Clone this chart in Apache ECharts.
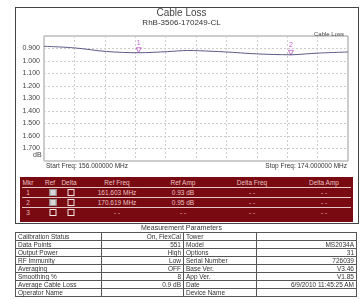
<!DOCTYPE html>
<html>
<head>
<meta charset="utf-8">
<script src="https://cdn.jsdelivr.net/npm/echarts@6/dist/echarts.min.js"></script>
<style>
  body { margin: 0; background: #fff; font-family: "Liberation Sans", Arial, sans-serif; }
  #wrap { position: relative; width: 363px; height: 299px; overflow: hidden; }
  #frame { position: absolute; left: 15px; top: 7px; width: 342px; height: 215px; border: 1px solid #444; }
  #chart { position: absolute; left: 0; top: 0; width: 363px; height: 299px; }
  #mkr { position: absolute; left: 20px; top: 177px; width: 333px; height: 45px; background: #7a0a12; color: #eac4c4; font-size: 6.5px; }
  #mkr .row { position: absolute; left: 2px; right: 2px; height: 10px; border-bottom: 1px solid #e6c8c8; }
  #mkr .row.last { border-bottom: none; }
  #mkr span { position: absolute; top: 2px; transform: translateX(-50%); white-space: nowrap; }
  #mkr .cb { position: absolute; top: 2px; width: 5px; height: 5px; border: 1px solid #f2e6e6; transform: translateX(-50%); }
  #mkr .cb.on { background: #d8d8d8; border-color: #999; }
  #ptitle { position: absolute; left: 0; width: 363px; top: 224px; text-align: center; font-size: 7px; color: #333; }
  #params { position: absolute; left: 15px; top: 232px; border-collapse: collapse; font-size: 6.5px; color: #333; }
  #params td { border: 1px solid #555; height: 7px; padding: 0 2px; line-height: 7px; white-space: nowrap; }
  #params td.v { text-align: right; }
</style>
</head>
<body>
<div id="wrap">
  <div id="frame"></div>
  <div id="chart"></div>
  <div id="mkr"></div>
  <div id="ptitle">Measurement Parameters</div>
  <table id="params"></table>
</div>
<script>
// trace data (MHz, dB)
var freqs = [156.0, 157.8, 159.7, 161.6, 163.3, 164.5, 165.2, 166.7, 168.6, 170.6, 172.2, 174.0];
var loss = [0.882, 0.895, 0.924, 0.934, 0.925, 0.916, 0.918, 0.927, 0.943, 0.950, 0.937, 0.928];

// markers
var markerFreqs = [161.603, 170.619];
var markerAmps = [0.93, 0.95];

var yTicks = ['0.900', '1.000', '1.100', '1.200', '1.300', '1.400', '1.500', '1.600', '1.700'];

// marker table rows
var mkrHeaders = ['Mkr', 'Ref', 'Delta', 'Ref Freq', 'Ref Amp', 'Delta Freq', 'Delta Amp'];
var mkrRefOn = [true, true, false];
var mkrRefFreq = ['161.603 MHz', '170.619 MHz', '- -'];
var mkrRefAmp = ['0.93 dB', '0.95 dB', '- -'];

// parameter table
var paramLeftNames = ['Calibration Status', 'Data Points', 'Output Power', 'RF Immunity', 'Averaging', 'Smoothing %', 'Average Cable Loss', 'Operator Name'];
var paramLeftValues = ['On, FlexCal', '551', 'High', 'Low', 'OFF', '8', '0.9 dB', ''];
var paramRightNames = ['Tower', 'Model', 'Options', 'Serial Number', 'Base Ver.', 'App Ver.', 'Date', 'Device Name'];
var paramRightValues = ['', 'MS2034A', '31', '726039', 'V3.46', 'V1.85', '6/9/2010 11:45:25 AM', ''];

var chart = echarts.init(document.getElementById('chart'));
var fontFam = '"Liberation Sans", Arial, sans-serif';

chart.setOption({
  animation: false,
  textStyle: { fontFamily: fontFam },
  title: {
    text: 'Cable Loss',
    subtext: 'RhB-3506-170249-CL',
    left: 'center',
    top: 3,
    itemGap: 1,
    textStyle: { fontSize: 10, fontWeight: 'normal', color: '#444' },
    subtextStyle: { fontSize: 8, color: '#333' }
  },
  legend: {
    data: ['Cable Loss'],
    right: 14,
    top: 25,
    icon: 'none',
    itemWidth: 0,
    itemHeight: 8,
    textStyle: { fontSize: 6, color: '#444' }
  },
  grid: { left: 44, top: 36, right: 15, bottom: 138, show: true, borderColor: '#999', borderWidth: 1 },
  xAxis: [
    { type: 'value', min: 156, max: 174, show: false },
    {
      type: 'value', min: 0, max: 10, interval: 1, position: 'bottom',
      axisLine: { show: false }, axisTick: { show: false }, axisLabel: { show: false },
      splitLine: { show: true, lineStyle: { color: '#ccc', type: [2, 2] } }
    }
  ],
  yAxis: {
    type: 'value', inverse: true, min: 0.8, max: 1.8, interval: 0.1,
    axisLine: { show: false }, axisTick: { show: false },
    axisLabel: {
      fontSize: 7, color: '#444', margin: 4,
      formatter: function (v) {
        var s = v.toFixed(3);
        return yTicks.indexOf(s) >= 0 ? s : '';
      }
    },
    splitLine: { show: true, lineStyle: { color: '#ccc', type: [2, 2] } }
  },
  series: [
    {
      name: 'Cable Loss',
      type: 'line',
      xAxisIndex: 0,
      data: freqs.map(function (f, i) { return [f, loss[i]]; }),
      showSymbol: false,
      smooth: 0.3,
      lineStyle: { color: '#5a5a88', width: 1 },
      itemStyle: { color: '#5a5a88' }
    },
    {
      name: 'markers',
      type: 'scatter',
      xAxisIndex: 0,
      data: markerFreqs.map(function (f, i) { return [f, markerAmps[i]]; }),
      symbol: 'triangle',
      symbolRotate: 180,
      symbolSize: 5,
      symbolOffset: [0, -2],
      itemStyle: { color: 'rgba(0,0,0,0)', borderColor: '#c050c8', borderWidth: 1 },
      label: {
        show: true, position: 'top', distance: 1, fontSize: 7, color: '#b040b8',
        formatter: function (p) { return String(p.dataIndex + 1); }
      }
    }
  ],
  graphic: [
    { type: 'text', left: 33, top: 152, style: { text: 'dB', fontSize: 7, fill: '#444', fontFamily: fontFam } },
    { type: 'text', left: 46, top: 163, style: { text: 'Start Freq: 156.000000 MHz', fontSize: 6.5, fill: '#333', fontFamily: fontFam } },
    { type: 'text', right: 16, top: 163, style: { text: 'Stop Freq: 174.000000 MHz', fontSize: 6.5, fill: '#333', fontFamily: fontFam } }
  ]
});

// marker table
var colX = [6, 28, 47, 95, 161, 230, 302];
var mkr = document.getElementById('mkr');
var html = '<div class="row" style="top:0">';
mkrHeaders.forEach(function (h, i) { html += '<span style="left:' + colX[i] + 'px">' + h + '</span>'; });
html += '</div>';
for (var r = 0; r < 3; r++) {
  html += '<div class="row' + (r === 2 ? ' last' : '') + '" style="top:' + (10 + r * 10) + 'px">';
  html += '<span style="left:' + colX[0] + 'px">' + (r + 1) + '</span>';
  html += '<div class="cb' + (mkrRefOn[r] ? ' on' : '') + '" style="left:' + (colX[1] + 3) + 'px"></div>';
  html += '<div class="cb" style="left:' + (colX[2] + 2) + 'px"></div>';
  html += '<span style="left:' + colX[3] + 'px">' + mkrRefFreq[r] + '</span>';
  html += '<span style="left:' + colX[4] + 'px">' + mkrRefAmp[r] + '</span>';
  html += '<span style="left:' + colX[5] + 'px">- -</span>';
  html += '<span style="left:' + colX[6] + 'px">- -</span>';
  html += '</div>';
}
mkr.innerHTML = html;

// parameter table
var t = '';
for (var i = 0; i < paramLeftNames.length; i++) {
  t += '<tr><td style="width:81px">' + paramLeftNames[i] + '</td>' +
       '<td class="v" style="width:77px">' + paramLeftValues[i] + '</td>' +
       '<td style="width:68px">' + paramRightNames[i] + '</td>' +
       '<td class="v" style="width:95px">' + paramRightValues[i] + '</td></tr>';
}
document.getElementById('params').innerHTML = t;
</script>
</body>
</html>
